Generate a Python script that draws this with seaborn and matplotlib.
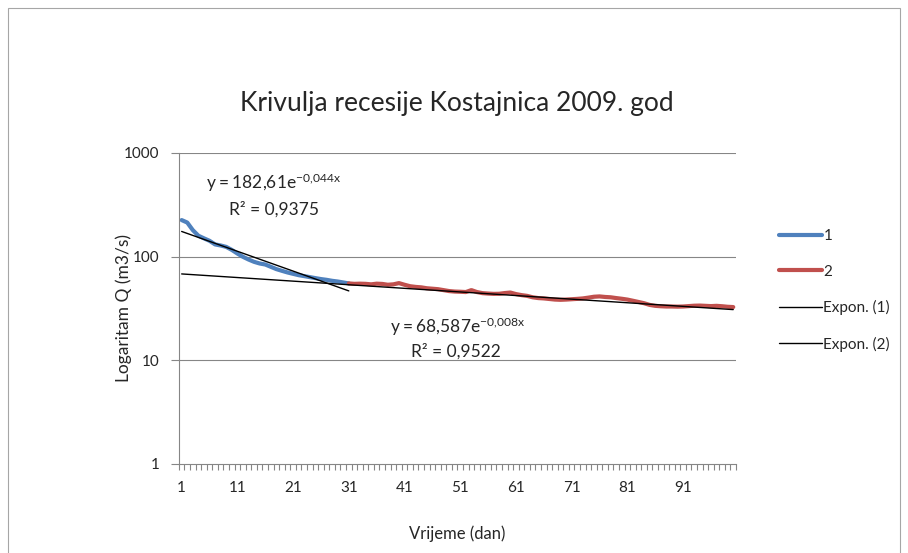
import numpy as np
import pandas as pd
import matplotlib
matplotlib.use("Agg")
import matplotlib.pyplot as plt
import seaborn as sns
from matplotlib.patches import Rectangle
from matplotlib.ticker import FixedLocator, NullLocator, NullFormatter

# ----------------- Data -----------------
days_1 = list(range(1, 32))
flow_1 = [225, 213, 180, 159, 150, 142, 131, 128, 124, 116,
          107, 99.5, 93.7, 89, 85.8, 83.9, 79.7, 75.7, 72.9, 70.3,
          68.2, 66.2, 64.8, 63.4, 62, 60.7, 59.7, 58.4, 57.5, 56.3,
          55.1]

days_2 = list(range(31, 101))
flow_2 = [55.1, 54.6, 54.8, 54.6, 54.0, 54.8, 54.5, 53.5, 54.0, 55.5,
          53.5, 51.8, 51.0, 50.5, 49.5, 49.0, 48.5, 47.5, 46.5, 46.0,
          45.8, 45.5, 47.5, 45.5, 44.4, 44.0, 43.7, 43.8, 44.5, 45.0,
          43.5, 42.5, 41.8, 40.5, 39.8, 39.5, 39.0, 38.5, 38.3, 38.5,
          38.8, 39.1, 39.5, 40.2, 41.0, 41.3, 40.8, 40.5, 39.8, 39.2,
          38.5, 37.5, 36.5, 35.5, 34.2, 33.5, 33.2, 33.0, 33.0, 32.9,
          33.0, 33.3, 33.6, 33.7, 33.5, 33.3, 33.5, 33.2, 32.8, 32.6]

# exponential trendlines y = a * exp(b * x), as printed on the chart
trend_a = [182.61, 68.587]
trend_b = [-0.044, -0.008]
trend_x_range = [(1, 31), (1, 100)]
trend_labels = [r"$\mathregular{y = 182{,}61e^{-0{,}044x}}$",
                r"$\mathregular{y = 68{,}587e^{-0{,}008x}}$"]
r2_labels = ["R² = 0,9375", "R² = 0,9522"]

x_ticks = list(range(1, 101, 10))
y_ticks = [1, 10, 100, 1000]

BLUE = "#4F81BD"
RED = "#C0504D"
GRID = "#868686"

# ----------------- Style -----------------
sns.set_style("white")
plt.rcParams["font.family"] = ["Lato", "DejaVu Sans"]
plt.rcParams["mathtext.default"] = "regular"

df1 = pd.DataFrame({"day": days_1, "flow": flow_1})
df2 = pd.DataFrame({"day": days_2, "flow": flow_2})

fig = plt.figure(figsize=(9.08, 5.53), dpi=100)
ax = fig.add_axes([0.197, 0.161, 0.6136, 0.5625])

# chart border
fig.patches.append(Rectangle((8 / 908, -0.01), 892 / 908, 1 - 8 / 553 + 0.01,
                             transform=fig.transFigure, fill=False,
                             edgecolor="#A6A6A6", linewidth=0.8))

ax.set_yscale("log")
ax.set_xlim(0.5, 100.5)
ax.set_ylim(1, 1000)

for yv in [10, 100, 1000]:
    ax.axhline(yv, color=GRID, linewidth=0.8, zorder=0)

sns.lineplot(data=df1, x="day", y="flow", ax=ax, color=BLUE, linewidth=3,
             label="1", solid_capstyle="round")
sns.lineplot(data=df2, x="day", y="flow", ax=ax, color=RED, linewidth=3,
             label="2", solid_capstyle="round")

for i in range(2):
    lo, hi = trend_x_range[i]
    tx = np.linspace(lo, hi, 100)
    ax.plot(tx, trend_a[i] * np.exp(trend_b[i] * tx), color="black",
            linewidth=1, label=f"Expon. ({i + 1})", zorder=5)

# equation labels
ax.text(17.6, 516, trend_labels[0], fontsize=12.5, ha="center", va="center")
ax.text(17.6, 283, r2_labels[0], fontsize=12.5, ha="center", va="center")
ax.text(50.5, 21, trend_labels[1], fontsize=12.5, ha="center", va="center")
ax.text(50.3, 12.1, r2_labels[1], fontsize=12.5, ha="center", va="center")

# axes formatting
ax.xaxis.set_major_locator(FixedLocator(x_ticks))
ax.set_xticklabels([str(t) for t in x_ticks])
ax.xaxis.set_minor_locator(FixedLocator(np.arange(0.5, 101, 1)))
ax.tick_params(axis="x", which="major", length=0, labelsize=11, pad=12)
ax.tick_params(axis="x", which="minor", length=4, color=GRID, width=0.8,
               direction="out", bottom=True)
ax.yaxis.set_major_locator(FixedLocator(y_ticks))
ax.yaxis.set_minor_locator(NullLocator())
ax.yaxis.set_minor_formatter(NullFormatter())
ax.set_yticklabels([str(t) for t in y_ticks])
ax.tick_params(axis="y", which="major", length=6, color=GRID, width=0.8,
               direction="out", left=True, labelsize=11, pad=8)

for side in ["top", "right"]:
    ax.spines[side].set_visible(False)
for side in ["left", "bottom"]:
    ax.spines[side].set_color(GRID)
    ax.spines[side].set_linewidth(0.8)

ax.set_xlabel("Vrijeme (dan)", fontsize=12, labelpad=22)
ax.set_ylabel("Logaritam Q (m3/s)", fontsize=12.5, labelpad=-6)

fig.text(0.503, 0.813, "Krivulja recesije Kostajnica 2009. god",
         fontsize=19, ha="center", va="center")

handles, labels = ax.get_legend_handles_labels()
ax.get_legend().remove()
fig.legend(handles, labels, loc="upper left", bbox_to_anchor=(0.843, 0.61),
           frameon=False, fontsize=11, handlelength=2.8, handletextpad=0.1,
           labelspacing=1.4)

fig.savefig("out.png", dpi=100)
